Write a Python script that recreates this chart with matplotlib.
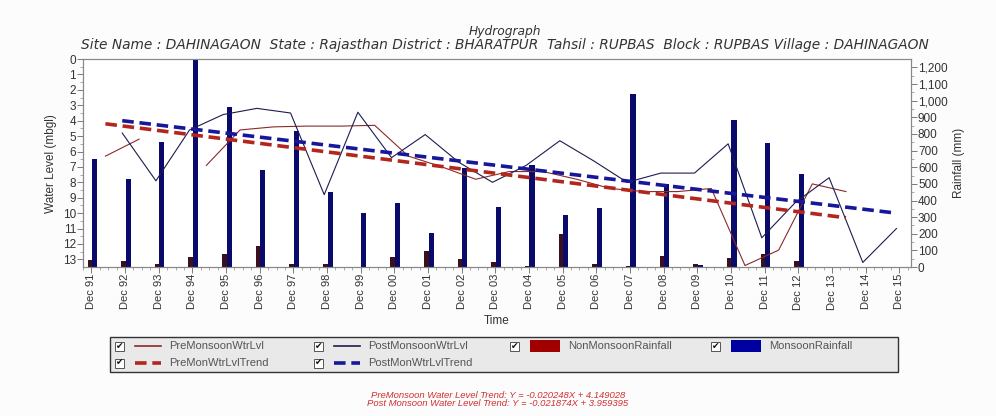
import matplotlib.pyplot as plt
import numpy as np
from matplotlib.patches import Rectangle
from matplotlib.lines import Line2D

plt.rcParams['font.family'] = ['Liberation Sans', 'DejaVu Sans']

# rainfall per year (bars sit at the December tick of each year)
rain_years = list(range(1991, 2016))
tick_labels = ['Dec %02d' % (y % 100) for y in rain_years]
monsoon_rain = [651, 531, 754, 1260, 959, 585, 820, 452, 326, 386, 205, 597, 362,
                615, 314, 356, 1043, 500, 15, 886, 748, 561, 0, 0, 0]
nonmonsoon_rain = [42, 36, 18, 60, 78, 127, 18, 18, 0, 60, 96, 48, 30,
                   8, 199, 18, 5, 66, 18, 54, 78, 36, 0, 0, 0]

# pre-monsoon (May) water level, mbgl
pre_years = list(range(1992, 2015))
pre_level = [6.3, 5.2, np.nan, 6.9, 4.6, 4.4, 4.35, 4.35, 4.3, 6.3, 7.0, 7.8,
             7.3, 7.3, 7.8, 8.4, 8.6, 8.6, 8.4, 13.4, 12.4, 8.1, 8.6]

# post-monsoon (November) water level, mbgl
post_years = list(range(1992, 2016))
post_level = [4.8, 7.9, 4.6, 3.6, 3.2, 3.5, 8.8, 3.45, 6.4, 4.9, 6.7, 8.0,
              6.9, 5.3, 6.6, 8.0, 7.4, 7.4, 5.5, 11.6, 9.3, 7.7, 13.2, 11.0]

# trend line end values
pre_trend = [4.2, 10.3]
post_trend = [4.0, 10.0]


def pos(year, month):
    # x position: December of 1991 is 0, one unit per year
    return (year - 1991) + (month - 12) / 12.0


xr = np.array([pos(y, 12) for y in rain_years])
xpre = np.array([pos(y, 5) for y in pre_years])
xpost = np.array([pos(y, 11) for y in post_years])

fig = plt.figure(figsize=(9.96, 4.16), dpi=100, facecolor='#fcfcfc')
ax = fig.add_axes([0.0833, 0.358, 0.8314, 0.5])   # rainfall (right)
ax2 = ax.twinx()                                   # water level (left)

ax.bar(xr - 0.05, nonmonsoon_rain, width=0.13, color='#3a0f1e', zorder=2)
ax.bar(xr + 0.09, monsoon_rain, width=0.15, color='#0a0a6a', zorder=2)
ax.set_ylim(0, 1250)
ax.yaxis.tick_right()
ax.yaxis.set_label_position('right')
ax.set_yticks(np.arange(0, 1201, 100))
ax.set_yticklabels(['{:,}'.format(v) for v in range(0, 1201, 100)])
ax.set_yticks(np.arange(50, 1250, 100), minor=True)
ax.set_ylabel('Rainfall (mm)', fontsize=8.5, color='#333333', labelpad=4)

ax2.plot(xpre, pre_level, color='#8a2a2a', lw=0.8, zorder=3)
ax2.plot(xpost, post_level, color='#1c1c50', lw=0.8, zorder=3)
ax2.plot([xpre[0], xpre[-1]], pre_trend, color='#b3261e', lw=2.6,
         dashes=(3.2, 1.6), zorder=4)
ax2.plot([xpost[0], xpost[-1]], post_trend, color='#17179a', lw=2.6,
         dashes=(3.2, 1.6), zorder=4)
ax2.set_ylim(13.5, 0)
ax2.yaxis.tick_left()
ax2.yaxis.set_label_position('left')
ax2.set_yticks(range(0, 14))
ax2.set_yticks(np.arange(0.5, 13.5, 1), minor=True)
ax2.set_ylabel('Water Level (mbgl)', fontsize=8.5, color='#333333', labelpad=4)

ax.set_xlim(-0.25, 24.35)
ax.set_xticks(xr)
ax.set_xticklabels(tick_labels, rotation=90)
ax.set_xticks(np.arange(-0.25, 24.3, 0.25), minor=True)
ax.set_xlabel('Time', fontsize=8.5, color='#333333', labelpad=4)

for a in (ax, ax2):
    a.tick_params(which='major', length=4, width=0.6, colors='#666666',
                  labelcolor='#333333', labelsize=8.5, pad=1)
    a.tick_params(which='minor', length=2, width=0.5, colors='#888888')
    for s in a.spines.values():
        s.set_color('#888888')
        s.set_linewidth(0.8)
ax.tick_params(axis='x', labelsize=8)

fig.text(0.507, 0.917, 'Hydrograph', ha='center', fontsize=8.8, style='italic',
         color='#333333', family=['DejaVu Sans'])
fig.text(0.507, 0.883,
         'Site Name : DAHINAGAON  State : Rajasthan District : BHARATPUR  '
         'Tahsil : RUPBAS  Block : RUPBAS Village : DAHINAGAON',
         ha='center', fontsize=9.9, style='italic', color='#333333',
         family=['DejaVu Sans'])

# legend panel with check boxes
lx0, lx1 = 110 / 996, 898 / 996
ly0, ly1 = 1 - 372 / 416, 1 - 337 / 416
fig.patches.append(Rectangle((lx0, ly0), lx1 - lx0, ly1 - ly0,
                             transform=fig.transFigure, facecolor='#e9e9e9',
                             edgecolor='#333333', lw=1.0))
row_y = [1 - 346 / 416, 1 - 363 / 416]
items = [
    (0, 119, 'line', '#8a2a2a', 'PreMonsoonWtrLvl'),
    (0, 318, 'line', '#1c1c50', 'PostMonsoonWtrLvl'),
    (0, 514, 'box', '#a00000', 'NonMonsoonRainfall'),
    (0, 715, 'box', '#0000a0', 'MonsoonRainfall'),
    (1, 119, 'dash', '#b3261e', 'PreMonWtrLvlTrend'),
    (1, 318, 'dash', '#17179a', 'PostMonWtrLvlTrend'),
]
for row, px, kind, col, label in items:
    y = row_y[row]
    cx = px / 996
    fig.patches.append(Rectangle((cx - 4 / 996, y - 4.5 / 416), 9 / 996, 9 / 416,
                                 transform=fig.transFigure, facecolor='white',
                                 edgecolor='#555555', lw=0.7))
    fig.text(cx + 0.5 / 996, y, '\u2714', ha='center', va='center', fontsize=6.5,
             color='#111111', family=['DejaVu Sans'])
    if kind == 'box':
        fig.patches.append(Rectangle(((px + 16) / 996, y - 6 / 416), 30 / 996,
                                     12 / 416, transform=fig.transFigure,
                                     facecolor=col, edgecolor='none'))
        tx = px + 54
    elif kind == 'line':
        fig.lines.append(Line2D([(px + 16) / 996, (px + 42) / 996], [y, y],
                                transform=fig.transFigure, color=col, lw=1.2))
        tx = px + 50
    else:
        fig.lines.append(Line2D([(px + 16) / 996, (px + 42) / 996], [y, y],
                                transform=fig.transFigure, color=col, lw=2.6,
                                dashes=(3.2, 1.6)))
        tx = px + 50
    fig.text(tx / 996, y, label, ha='left', va='center', fontsize=8,
             color='#555555')

fig.text(0.5, 1 - 395 / 416,
         'PreMonsoon Water Level Trend: Y = -0.020248X + 4.149028',
         ha='center', va='center', fontsize=6.8, style='italic', color='#d03030')
fig.text(0.5, 1 - 404 / 416,
         'Post Monsoon Water Level Trend: Y = -0.021874X + 3.959395',
         ha='center', va='center', fontsize=6.8, style='italic', color='#d03030')

fig.savefig('out.png', dpi=100, facecolor=fig.get_facecolor())
